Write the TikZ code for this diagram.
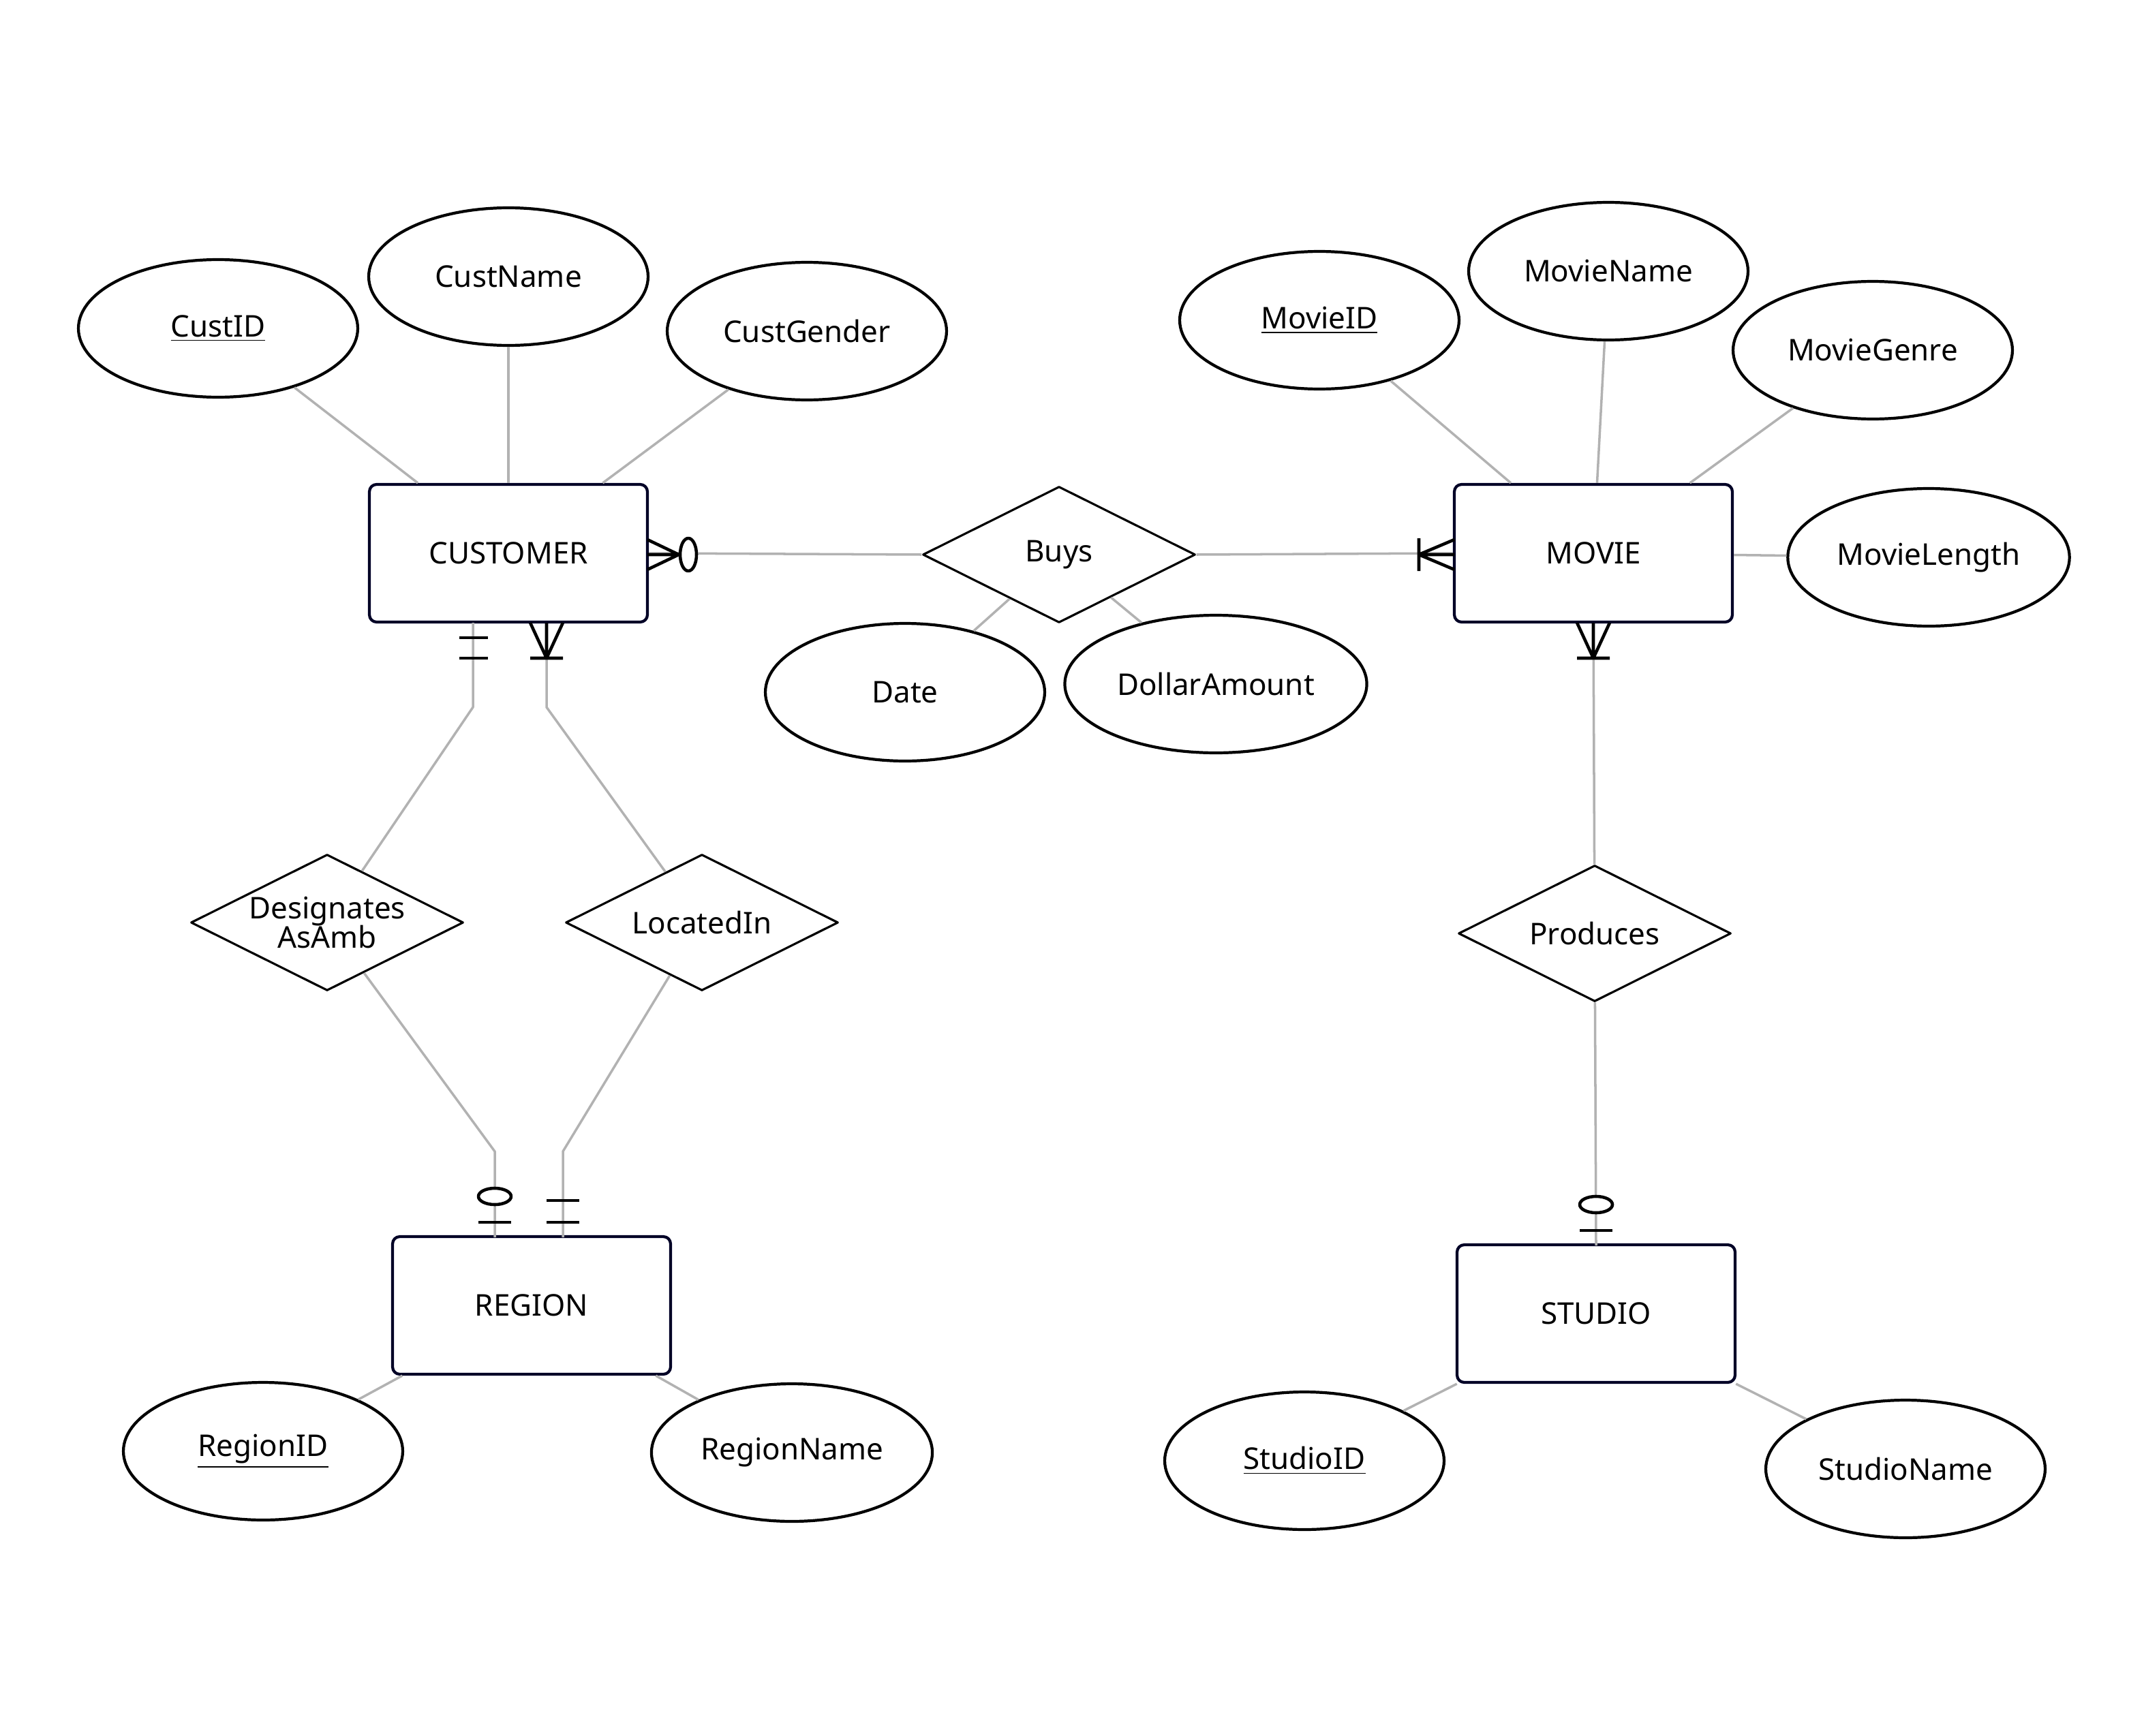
\documentclass[tikz,border=0pt]{standalone}
\usepackage{fontspec}
\setmainfont{Noto Sans}
\usetikzlibrary{shapes.geometric,calc}
\tikzset{
  every node/.style={font=\fontsize{12.5}{15}\selectfont},
  entity/.style={draw=black!85!blue,line width=1.2pt,rounded corners=3pt,minimum width=4.08cm,minimum height=2.02cm},
  attr/.style={draw,ellipse,line width=1.2pt,minimum width=4.1cm,minimum height=2.02cm},
  rel/.style={draw,diamond,aspect=2,line width=0.9pt,minimum width=4cm,minimum height=2cm,inner sep=0pt},
  link/.style={draw=black!30,line width=1pt},
  card/.style={draw=black,line width=1.3pt}
}
\begin{document}
\begin{tikzpicture}[x=0.02cm,y=-0.02cm,line cap=butt,line join=round]
\useasboundingbox (0,0) rectangle (1562,1274);
% entities
\node[entity] (cust) at (373,406) {CUSTOMER};
\node[entity] (movie) at (1169,406) {MOVIE};
\node[entity] (region) at (390,958) {REGION};
\node[entity] (studio) at (1171,964) {STUDIO};
% relationships
\node[rel] (buys) at (777,407) {Buys};
\node[rel] (des) at (240,677) {};
\node[align=center] at (des) {Designates\\[-3pt]AsAmb};
\node[rel] (loc) at (515,677) {LocatedIn};
\node[rel] (prod) at (1170,685) {Produces};
% attributes
\node[attr] (custid) at (160,241) {\underline{CustID}};
\node[attr] (custname) at (373,203) {CustName};
\node[attr] (custgender) at (592,243) {CustGender};
\node[attr] (movieid) at (968,235) {\underline{MovieID}};
\node[attr] (moviename) at (1180,199) {MovieName};
\node[attr] (moviegenre) at (1374,257) {MovieGenre};
\node[attr] (movielength) at (1415,409) {MovieLength};
\node[attr] (date) at (664,508) {Date};
\node[attr] (dollar) at (892,502) {DollarAmount};
\node[attr] (regionid) at (193,1065) {\underline{RegionID}};
\node[attr] (regionname) at (581,1066) {RegionName};
\node[attr] (studioid) at (957,1072) {\underline{StudioID}};
\node[attr] (studioname) at (1398,1078) {StudioName};
% attribute links
\foreach \a/\e in {custid/cust,custname/cust,custgender/cust,movieid/movie,moviename/movie,moviegenre/movie,movielength/movie,date/buys,dollar/buys,regionid/region,regionname/region,studioid/studio,studioname/studio}
  \draw[link] (\a) -- (\e);
% bends
\coordinate (c1) at (347,457); \coordinate (c1b) at (347,519);
\coordinate (c2) at (401,457); \coordinate (c2b) at (401,519);
\coordinate (r1) at (363,908); \coordinate (r1b) at (363,845);
\coordinate (r2) at (413,908); \coordinate (r2b) at (413,845);
\coordinate (m1) at (1169,457); \coordinate (s1) at (1171,914);
% relationship links
\draw[link] (cust.east) -- (buys.west);
\draw[link] (buys.east) -- (movie.west);
\draw[link] (c1) -- (c1b) -- (des);
\draw[link] (des) -- (r1b) -- (r1);
\draw[link] (c2) -- (c2b) -- (loc);
\draw[link] (loc) -- (r2b) -- (r2);
\draw[link] (m1) -- (prod);
\draw[link] (prod) -- (s1);
% cardinality marks
\draw[card] (475,396) -- (498,407) -- (475,418) (475,407) -- (498,407);
\draw[card,fill=white] (505,407) ellipse [x radius=6,y radius=12];
\draw[card] (1067,396) -- (1041,407) -- (1067,418) (1067,407) -- (1041,407) (1041,395) -- (1041,419);
\draw[card] (337,468) -- (358,468) (337,483) -- (358,483);
\draw[card] (389,457) -- (401,483) -- (413,457) (401,457) -- (401,483) (389,483) -- (413,483);
\draw[card] (1157,457) -- (1169,483) -- (1181,457) (1169,457) -- (1169,483) (1157,483) -- (1181,483);
\draw[card,fill=white] (363,878) ellipse [x radius=12,y radius=6];
\draw[card] (351,897) -- (375,897);
\draw[card] (401,881) -- (425,881) (401,897) -- (425,897);
\draw[card,fill=white] (1171,884) ellipse [x radius=12,y radius=6];
\draw[card] (1159,903) -- (1183,903);
\end{tikzpicture}
\end{document}
